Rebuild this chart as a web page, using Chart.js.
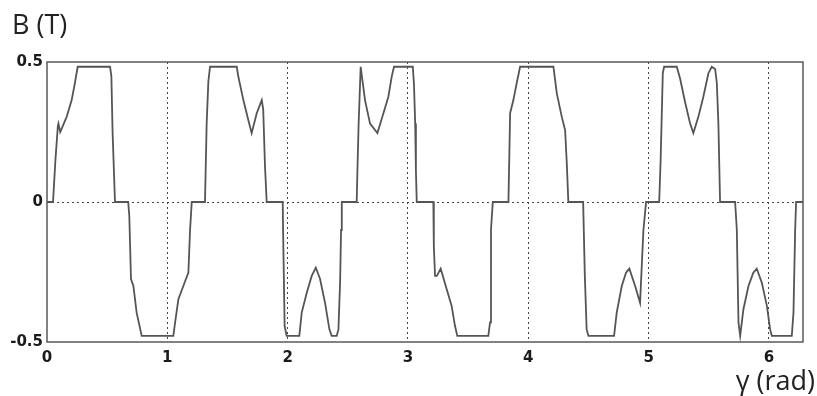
<!DOCTYPE html>
<html>
<head>
<meta charset="utf-8">
<script src="https://cdn.jsdelivr.net/npm/chart.js@4.4.1/dist/chart.umd.min.js"></script>
<style>
  html, body { margin: 0; padding: 0; background: #fff; }
  #wrap { width: 817px; height: 396px; }
</style>
</head>
<body>
<div id="wrap"><canvas id="fieldChart" width="817" height="396"></canvas></div>
<script>
// gamma (rad) positions and field B (T)
const gammaRad = [
  0, 0.05, 0.07, 0.09, 0.095, 0.11, 0.13, 0.164, 0.205, 0.232, 0.255,
  0.524, 0.535, 0.545, 0.565, 0.675, 0.684, 0.698, 0.718, 0.745, 0.787,
  1.05, 1.064, 1.092, 1.133, 1.175, 1.189, 1.203, 1.313, 1.327, 1.341, 1.355,
  1.577, 1.59, 1.632, 1.673, 1.701, 1.743, 1.785, 1.797, 1.812, 1.826,
  1.959, 1.962, 1.975, 1.992, 2.097, 2.117, 2.159, 2.2, 2.234, 2.269, 2.311,
  2.347, 2.366, 2.408, 2.422, 2.436, 2.444, 2.45, 2.574, 2.58, 2.59, 2.607,
  2.643, 2.685, 2.746, 2.796, 2.837, 2.865, 2.884, 3.04, 3.05, 3.06, 3.066,
  3.073, 3.211, 3.215, 3.225, 3.24, 3.272, 3.322, 3.363, 3.391, 3.41,
  3.668, 3.682, 3.69, 3.705, 3.835, 3.849, 3.876, 3.904, 3.932, 4.209,
  4.237, 4.278, 4.306, 4.32, 4.333, 4.456, 4.47, 4.485, 4.5, 4.713, 4.735,
  4.777, 4.813, 4.84, 4.888, 4.929, 4.943, 4.957, 4.979, 5.088, 5.1, 5.118,
  5.129, 5.234, 5.262, 5.303, 5.345, 5.372, 5.414, 5.455, 5.497, 5.525,
  5.553, 5.567, 5.58, 5.594, 5.719, 5.733, 5.747, 5.761, 5.788, 5.83, 5.871,
  5.899, 5.941, 5.983, 6.01, 6.024, 6.19, 6.204, 6.218, 6.226, 6.283
];
const fieldT = [
  0, 0, 0.15, 0.27, 0.28, 0.25, 0.27, 0.305, 0.364, 0.425, 0.483,
  0.483, 0.45, 0.25, 0, 0, -0.05, -0.275, -0.3, -0.395, -0.478,
  -0.478, -0.433, -0.347, -0.3, -0.252, -0.1, 0, 0, 0.28, 0.43, 0.483,
  0.483, 0.448, 0.364, 0.293, 0.246, 0.317, 0.364, 0.33, 0.126, 0,
  0, -0.098, -0.443, -0.478, -0.478, -0.395, -0.324, -0.264, -0.235, -0.274, -0.36,
  -0.455, -0.478, -0.478, -0.455, -0.288, -0.1, 0, 0, 0.114, 0.28, 0.483,
  0.364, 0.28, 0.246, 0.317, 0.376, 0.448, 0.483, 0.483, 0.42, 0.28, 0.114,
  0, 0, -0.157, -0.264, -0.264, -0.238, -0.312, -0.371, -0.443, -0.478,
  -0.478, -0.43, -0.1, 0, 0, 0.317, 0.364, 0.425, 0.483, 0.483,
  0.388, 0.305, 0.257, 0.138, 0, 0, -0.264, -0.455, -0.478, -0.478, -0.395,
  -0.3, -0.252, -0.238, -0.3, -0.36, -0.229, -0.1, 0, 0, 0.15, 0.46,
  0.483, 0.483, 0.44, 0.357, 0.28, 0.246, 0.305, 0.376, 0.46, 0.483,
  0.475, 0.425, 0.28, 0, 0, -0.098, -0.43, -0.478, -0.383, -0.3, -0.252,
  -0.238, -0.288, -0.371, -0.455, -0.478, -0.478, -0.395, -0.1, 0, 0
];
const xTicks = [0, 1, 2, 3, 4, 5, 6];
const yTicks = [-0.5, 0, 0.5];

const points = gammaRad.map((g, i) => ({ x: g, y: fieldT[i] }));

const frameColor = "#5a5a5a";
const gridColor = "#444";
const tickFont = { family: "DejaVu Sans", size: 15, weight: "bold" };

// frame box + the two axis labels (B (T) top-left, gamma (rad) bottom-right)
const framePlugin = {
  id: "frame",
  afterDraw(chart) {
    const { ctx, chartArea: a } = chart;
    ctx.save();
    ctx.strokeStyle = frameColor;
    ctx.lineWidth = 1.5;
    ctx.strokeRect(a.left, a.top, a.right - a.left, a.bottom - a.top);
    ctx.fillStyle = "#222";
    ctx.font = '27px "Open Sans"';
    ctx.textBaseline = "alphabetic";
    ctx.textAlign = "left";
    ctx.fillText("B (T)", 12, 34);
    ctx.textAlign = "right";
    ctx.fillText("γ (rad)", 815, 390);
    ctx.restore();
  }
};

new Chart(document.getElementById("fieldChart").getContext("2d"), {
  type: "line",
  plugins: [framePlugin],
  data: {
    datasets: [
      {
        label: "B",
        data: points,
        borderColor: "#555",
        borderWidth: 1.8,
        pointRadius: 0,
        tension: 0,
        fill: false
      }
    ]
  },
  options: {
    responsive: false,
    animation: false,
    layout: { padding: { top: 62, left: 10, right: 14, bottom: 0 } },
    plugins: {
      legend: { display: false },
      tooltip: { enabled: false }
    },
    scales: {
      x: {
        type: "linear",
        min: 0,
        max: 2 * Math.PI,
        afterBuildTicks: (scale) => {
          scale.ticks = xTicks.map((v) => ({ value: v }));
        },
        afterFit: (scale) => { scale.height = 54; },
        ticks: {
          color: "#1a1a1a",
          font: tickFont,
          padding: 7,
          maxRotation: 0,
          callback: (v) => v
        },
        grid: {
          drawTicks: false,
          color: (c) => (c.tick && c.tick.value === 0 ? "rgba(0,0,0,0)" : gridColor),
          lineWidth: 1
        },
        border: { display: false, dash: [2, 3] }
      },
      y: {
        min: -0.5,
        max: 0.5,
        afterBuildTicks: (scale) => {
          scale.ticks = yTicks.map((v) => ({ value: v }));
        },
        afterFit: (scale) => { scale.width = 37; },
        ticks: {
          color: "#1a1a1a",
          font: tickFont,
          padding: 4,
          callback: (v) => v
        },
        grid: {
          drawTicks: false,
          color: (c) => (c.tick && c.tick.value === 0 ? gridColor : "rgba(0,0,0,0)"),
          lineWidth: 1
        },
        border: { display: false, dash: [2, 3] }
      }
    }
  }
});
</script>
</body>
</html>
